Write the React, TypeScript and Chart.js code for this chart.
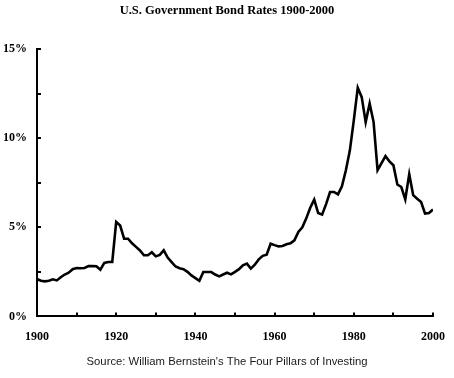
import React, { useEffect, useRef } from "react";
import { Chart, registerables } from "chart.js";

Chart.register(...registerables);

const years: number[] = [];
for (let y = 1900; y <= 2000; y++) years.push(y);

const rates: number[] = [
  2.1, 2.0, 1.97, 2.0, 2.08, 2.02, 2.2, 2.35, 2.45, 2.65,
  2.72, 2.7, 2.72, 2.82, 2.83, 2.82, 2.62, 3.0, 3.05, 3.05,
  5.3, 5.1, 4.36, 4.36, 4.1, 3.9, 3.7, 3.43, 3.43, 3.6,
  3.37, 3.45, 3.71, 3.3, 3.05, 2.8, 2.7, 2.65, 2.5, 2.3,
  2.15, 2.0, 2.49, 2.49, 2.49, 2.35, 2.25, 2.35, 2.45, 2.36,
  2.5, 2.65, 2.87, 2.96, 2.68, 2.9, 3.2, 3.4, 3.46, 4.08,
  4.0, 3.93, 3.95, 4.05, 4.1, 4.27, 4.74, 5.0, 5.5, 6.1,
  6.55, 5.8, 5.71, 6.3, 6.98, 6.98, 6.85, 7.3, 8.2, 9.3,
  11.0, 12.83, 12.3, 10.9, 11.94, 10.9, 8.2, 8.6, 8.99, 8.7,
  8.48, 7.4, 7.26, 6.57, 7.98, 6.8, 6.6, 6.42, 5.77, 5.8,
  6.0,
];

const yTickStep = 2.5;
const yLabelStep = 5;
const xTickStep = 10;
const xLabelStep = 20;

const titleText = "U.S. Government Bond Rates 1900-2000";
const sourceText = "Source: William Bernstein's The Four Pillars of Investing";

const innerTicks = {
  id: "innerTicks",
  afterDraw(chart: any) {
    const { ctx, chartArea, scales } = chart;
    const xs = scales.x;
    const ys = scales.y;
    ctx.save();
    ctx.strokeStyle = "#000";
    ctx.lineWidth = 2;
    ctx.beginPath();
    for (let v = xs.min; v <= xs.max + 0.001; v += xTickStep) {
      const px = Math.round(xs.getPixelForValue(v));
      ctx.moveTo(px, chartArea.bottom);
      ctx.lineTo(px, chartArea.bottom - 4);
    }
    for (let v = ys.min; v <= ys.max + 0.001; v += yTickStep) {
      const py = Math.round(ys.getPixelForValue(v));
      ctx.moveTo(chartArea.left, py);
      ctx.lineTo(chartArea.left + 4, py);
    }
    ctx.stroke();
    ctx.restore();
  },
};

export default function App() {
  const ref = useRef<HTMLCanvasElement | null>(null);
  useEffect(() => {
    if (!ref.current) return;
    const serif = "'Liberation Serif', 'Times New Roman', serif";
    const chart = new Chart(ref.current, {
      type: "line",
      data: {
        labels: years,
        datasets: [
          {
            data: years.map((y, i) => ({ x: y, y: rates[i] })),
            borderColor: "#000",
            borderWidth: 2.6,
            pointRadius: 0,
            tension: 0,
            fill: false,
          },
        ],
      },
      options: {
        animation: false,
        responsive: false,
        devicePixelRatio: 1,
        layout: { padding: 0 },
        plugins: {
          legend: { display: false },
          tooltip: { enabled: false },
          title: {
            display: true,
            text: titleText,
            color: "#000",
            font: { family: serif, size: 12.5, weight: "bold" },
            padding: { top: 3, bottom: 31 },
          },
          subtitle: {
            display: true,
            position: "bottom",
            text: sourceText,
            color: "#1a1a1a",
            font: { family: "'Liberation Sans', Arial, sans-serif", size: 11.3, weight: "normal" },
            padding: { top: 8, bottom: 9 },
          },
        },
        scales: {
          x: {
            type: "linear",
            min: 1900,
            max: 2000,
            afterFit: (s: any) => {
              s.height = 31;
              s.paddingLeft = 0;
              s.paddingRight = 0;
            },
            border: { display: true, color: "#000", width: 2 },
            grid: { display: true, drawOnChartArea: false, drawTicks: false },
            ticks: {
              stepSize: xTickStep,
              autoSkip: false,
              maxRotation: 0,
              padding: 13,
              color: "#000",
              font: { family: serif, size: 12, weight: "bold" },
              callback: (v: any) => (Number(v) % xLabelStep === 0 ? String(v) : ""),
            },
          },
          y: {
            min: 0,
            max: 15,
            afterFit: (s: any) => {
              s.width = 37;
            },
            border: { display: true, color: "#000", width: 2 },
            grid: { display: true, drawOnChartArea: false, drawTicks: false },
            ticks: {
              stepSize: yTickStep,
              autoSkip: false,
              padding: 10,
              color: "#000",
              font: { family: serif, size: 12, weight: "bold" },
              callback: (v: any) => (Number(v) % yLabelStep === 0 ? v + "%" : ""),
            },
          },
          yRight: {
            position: "right",
            display: true,
            min: 0,
            max: 15,
            afterFit: (s: any) => {
              s.width = 21;
            },
            border: { display: false },
            grid: { display: false },
            ticks: { display: false },
          },
        },
      },
      plugins: [innerTicks],
    } as any);
    return () => chart.destroy();
  }, []);
  return (
    <div style={{ position: "absolute", left: 0, top: 0, width: 454, height: 378, background: "#fff" }}>
      <canvas ref={ref} width={454} height={378} />
    </div>
  );
}
